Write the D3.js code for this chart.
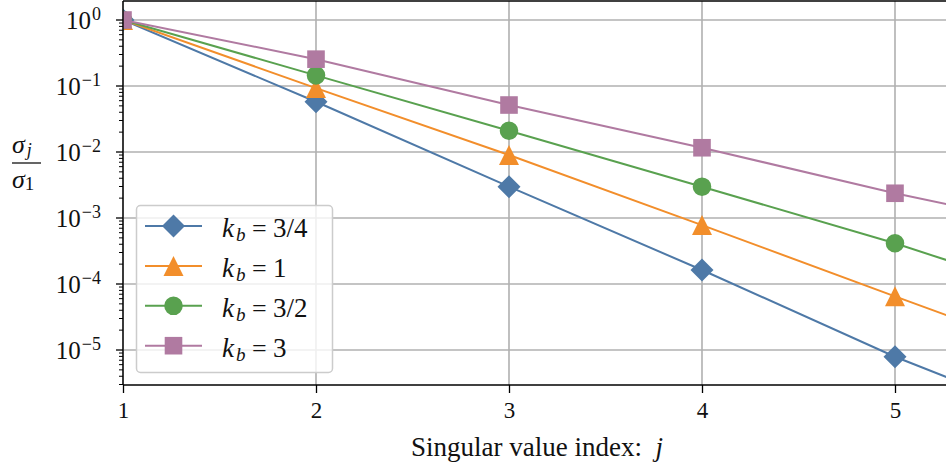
<!DOCTYPE html>
<html>
<head>
<meta charset="utf-8">
<script src="https://cdn.jsdelivr.net/npm/d3@7"></script>
<style>
  html, body { margin: 0; padding: 0; background: #fff; }
  svg { display: block; }
  text { font-family: "Liberation Serif", serif; fill: #111; }
</style>
</head>
<body>
<svg id="chart" width="946" height="467"></svg>
<script>
// ---- data ----
const indices = [1, 2, 3, 4, 5, 6];
const seriesLabels = ["3/4", "1", "3/2", "3"];
const kb34 = [1, 0.0578, 2.98e-3, 1.63e-4, 7.9e-6, 5.5e-7];
const kb1  = [1, 0.093, 9.0e-3, 7.8e-4, 6.5e-5, 5.5e-6];
const kb32 = [1, 0.145, 0.0210, 2.98e-3, 4.14e-4, 4.6e-5];
const kb3  = [1, 0.255, 0.0515, 0.0116, 2.37e-3, 5.7e-4];
const xTicks = [1, 2, 3, 4, 5];
const yTickExps = [0, -1, -2, -3, -4, -5];

const colors = ["#4e79a7", "#f28e2b", "#59a14f", "#b07aa1"];
const markers = ["diamond", "triangle", "circle", "square"];
const series = [kb34, kb1, kb32, kb3].map((vals, i) => ({
  label: seriesLabels[i], color: colors[i], marker: markers[i],
  pts: indices.map((x, j) => ({ x, y: vals[j] }))
}));

// ---- layout ----
const L = 123, R = 946, T = 1, B = 385;
const FONT = "Liberation Serif";
const svg = d3.select("#chart");
const x = d3.scaleLinear().domain([1, 5]).range([123, 895]);
const y = d3.scaleLog().domain([1e-5, 1]).range([350, 20]);

svg.append("defs").append("clipPath").attr("id", "plotclip")
  .append("rect").attr("x", L).attr("y", T).attr("width", R - L).attr("height", B - T);

// grid
const grid = svg.append("g").attr("stroke", "#b0b0b0").attr("stroke-width", 1.6);
xTicks.forEach(t => grid.append("line").attr("x1", x(t)).attr("x2", x(t)).attr("y1", T).attr("y2", B));
yTickExps.forEach(e => grid.append("line").attr("x1", L).attr("x2", R).attr("y1", y(Math.pow(10, e))).attr("y2", y(Math.pow(10, e))));

// marker symbols
function symbolPath(kind) {
  if (kind === "diamond") return "M0,-11.5L11.5,0L0,11.5L-11.5,0Z";
  if (kind === "triangle") return "M0,-10L10,10L-10,10Z";
  if (kind === "circle") return d3.symbol(d3.symbolCircle, Math.PI * 9.3 * 9.3)();
  return "M-8.8,-8.8H8.8V8.8H-8.8Z";
}

// lines + markers
const plot = svg.append("g").attr("clip-path", "url(#plotclip)");
const line = d3.line().x(d => x(d.x)).y(d => y(d.y));
series.forEach(s => {
  const g = plot.append("g");
  g.append("path").datum(s.pts).attr("d", line)
    .attr("fill", "none").attr("stroke", s.color).attr("stroke-width", 2);
  g.selectAll("path.m").data(s.pts).enter().append("path").attr("class", "m")
    .attr("d", symbolPath(s.marker))
    .attr("transform", d => `translate(${x(d.x)},${y(d.y)})`)
    .attr("fill", s.color);
});

// x axis
const xAxis = d3.axisBottom(x).tickValues(xTicks).tickSize(8).tickFormat(d3.format("d"));
const gx = svg.append("g").attr("transform", `translate(0,${B})`).call(xAxis)
  .attr("font-family", FONT).attr("font-size", 23);
gx.select(".domain").remove();
gx.selectAll("line").attr("stroke", "#000").attr("stroke-width", 1.3);
gx.selectAll("text").attr("y", 33).attr("dy", null).attr("font-size", 23).attr("font-family", FONT).attr("fill", "#111");

// y ticks (major + minor)
const yg = svg.append("g");
for (let e = -6; e <= 0; e++) {
  for (let m = 1; m <= 9; m++) {
    const v = m * Math.pow(10, e);
    const py = y(v);
    if (py < T || py > B) continue;
    yg.append("line").attr("x1", L).attr("x2", L - (m === 1 ? 7 : 4))
      .attr("y1", py).attr("y2", py).attr("stroke", "#000").attr("stroke-width", m === 1 ? 1.3 : 1);
  }
}
yTickExps.forEach(e => {
  const t = yg.append("text").attr("x", 101).attr("y", y(Math.pow(10, e)) + 8.5)
    .attr("text-anchor", "end").attr("font-size", 25).attr("font-family", FONT);
  t.append("tspan").text("10");
  t.append("tspan").attr("dx", 1).attr("dy", -9).attr("font-size", 18).text(e === 0 ? "0" : "\u2212" + (-e));
});

// spines
svg.append("line").attr("x1", L).attr("x2", L).attr("y1", T).attr("y2", B).attr("stroke", "#000").attr("stroke-width", 1.4);
svg.append("line").attr("x1", L).attr("x2", R).attr("y1", B).attr("y2", B).attr("stroke", "#000").attr("stroke-width", 1.4);
svg.append("line").attr("x1", L).attr("x2", R).attr("y1", T).attr("y2", T).attr("stroke", "#000").attr("stroke-width", 1.4);

// x label
const xl = svg.append("text").attr("x", 537).attr("y", 456).attr("text-anchor", "middle")
  .attr("font-size", 27).attr("font-family", FONT);
xl.append("tspan").text("Singular value index:\u2002");
xl.append("tspan").attr("font-style", "italic").text("j");

// y label (fraction)
const yl = svg.append("g").attr("font-family", FONT);
const num = yl.append("text").attr("x", 12).attr("y", 153).attr("font-size", 26);
num.append("tspan").attr("font-style", "italic").text("σ");
num.append("tspan").attr("font-style", "italic").attr("font-size", 18).attr("dy", 3).attr("dx", 2).text("j");
yl.append("line").attr("x1", 12).attr("x2", 41).attr("y1", 163).attr("y2", 163).attr("stroke", "#111").attr("stroke-width", 1.3);
const den = yl.append("text").attr("x", 12).attr("y", 188).attr("font-size", 26);
den.append("tspan").attr("font-style", "italic").text("σ");
den.append("tspan").attr("font-size", 19).attr("dy", 2).text("1");

// legend
const lg = svg.append("g").attr("font-family", FONT);
lg.append("rect").attr("x", 136.5).attr("y", 205.5).attr("width", 196).attr("height", 167).attr("rx", 4)
  .attr("fill", "#fff").attr("fill-opacity", 0.8).attr("stroke", "#cccccc").attr("stroke-width", 1.5);
series.forEach((s, i) => {
  const cy = 226 + i * 39.9;
  lg.append("line").attr("x1", 145).attr("x2", 202).attr("y1", cy).attr("y2", cy).attr("stroke", s.color).attr("stroke-width", 2);
  lg.append("path").attr("d", symbolPath(s.marker)).attr("transform", `translate(173.5,${cy})`).attr("fill", s.color);
  const base = cy + 11;
  lg.append("text").attr("x", 222).attr("y", base).attr("font-size", 27).attr("font-style", "italic").text("k");
  lg.append("text").attr("x", 236).attr("y", base + 4).attr("font-size", 19).attr("font-style", "italic").text("b");
  lg.append("text").attr("x", 252).attr("y", base).attr("font-size", 26).text("=");
  lg.append("text").attr("x", 273).attr("y", base).attr("font-size", 27).text(s.label);
});
</script>
</body>
</html>
